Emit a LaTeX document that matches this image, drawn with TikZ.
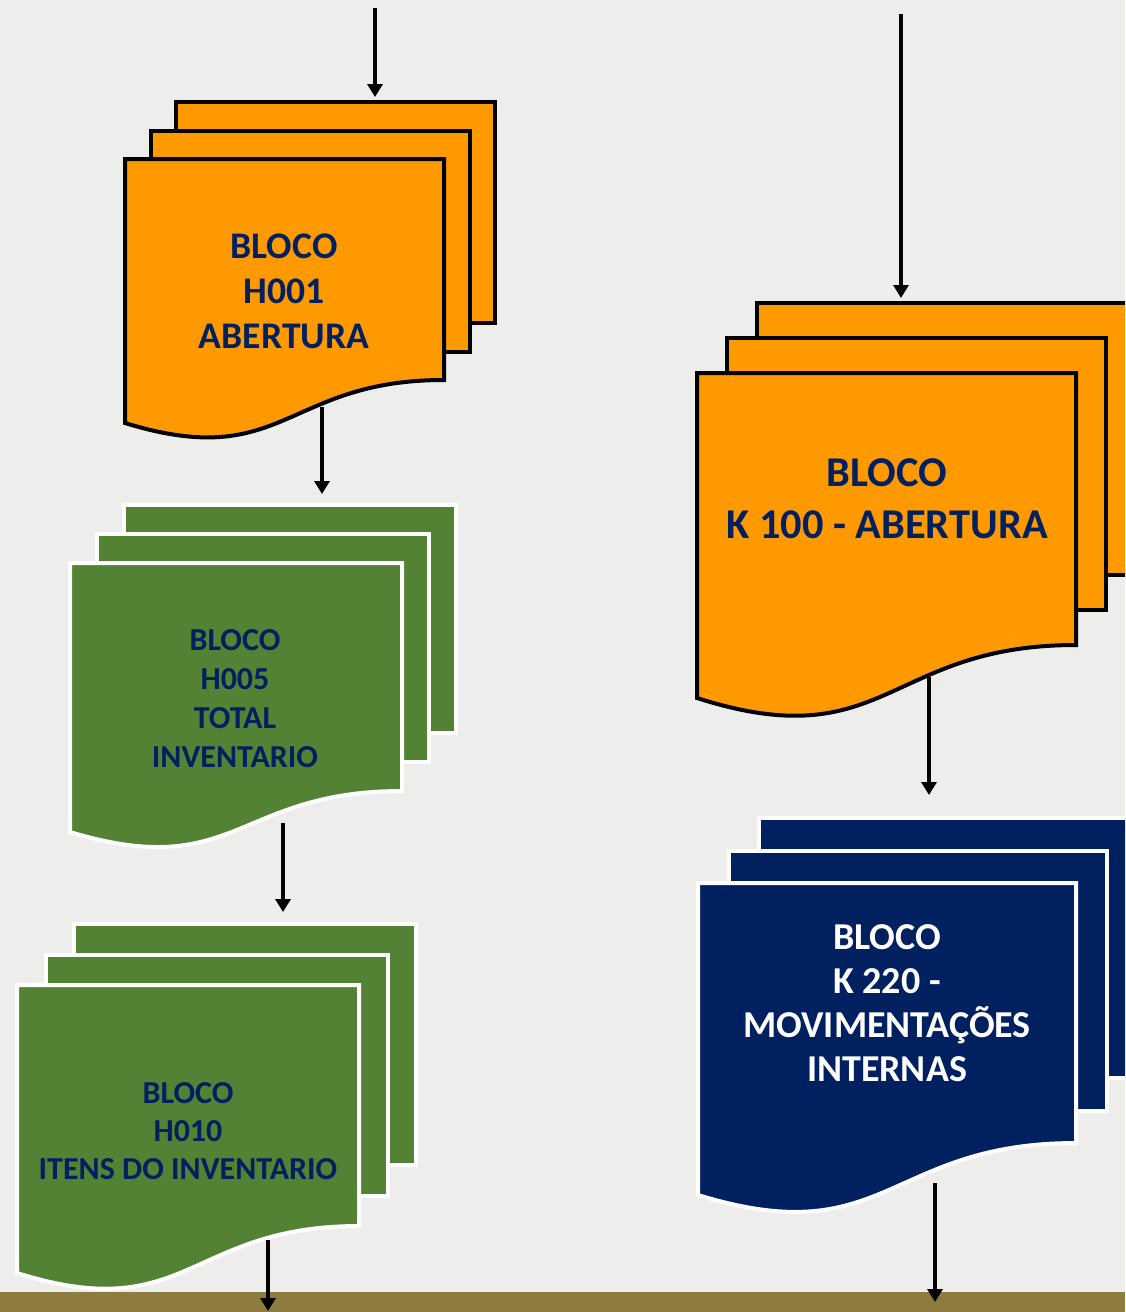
\documentclass[tikz,border=0pt]{standalone}
\usepackage{fontspec}
\setmainfont{Carlito}
\usepackage{tikz}
\usetikzlibrary{arrows.meta,calc}
\definecolor{paper}{HTML}{EDEDEC}
\definecolor{strip}{HTML}{8E7C3F}
\definecolor{orange}{HTML}{FF9900}
\definecolor{green}{HTML}{548235}
\definecolor{navy}{HTML}{002060}

% #1 top left of front page, #2 width, #3 right height, #4 left height, #5 page offset, #6 style
\newcommand{\multidoc}[6]{%
  \begin{scope}[shift={#1}]
    \foreach \k in {2,1}{\draw[#6] ($\k*#5$) rectangle ++(#2,#3);}
    \draw[#6] (0,0) -- (#2,0) -- (#2,#3)
      .. controls (0.5*#2,#3) and (0.5*#2,1.186*#4) .. (0,#4) -- cycle;
  \end{scope}}

\begin{document}
\begin{tikzpicture}[x=0.5pt,y=-0.5pt,>={Triangle[width=7.5pt,length=6.5pt]}]
\tikzset{orangedoc/.style={draw=black,line width=2pt,fill=orange},
  greendoc/.style={draw=white,line width=2pt,fill=green},
  navydoc/.style={draw=white,line width=2pt,fill=navy},
  lbl/.style={align=center,inner sep=0pt,text=navy},
  flow/.style={->,line width=2pt}}
\useasboundingbox (0,0) rectangle (1125,1312);
\clip (0,0) rectangle (1125,1312);
\fill[paper] (0,0) rectangle (1125,1312);
\fill[strip] (0,1292) rectangle (1125,1312);

% left column
\multidoc{(125,159)}{319}{221}{264}{(25.5,-28.5)}{orangedoc}
\multidoc{(70,563)}{332}{228}{269}{(27,-29)}{greendoc}
\multidoc{(17,985)}{342}{241}{288}{(28.5,-30.5)}{greendoc}
% right column
\multidoc{(697,373)}{379}{272}{325}{(30,-35)}{orangedoc}
\multidoc{(698,883)}{378}{260}{312}{(30.5,-32.5)}{navydoc}

\node[lbl,font=\bfseries\fontsize{18.8}{22.5}\selectfont] (h001) at (284,291) {BLOCO\\H001\\ABERTURA};
\node[lbl,font=\bfseries\fontsize{16}{19.5}\selectfont] (h005) at (235,699) {BLOCO\\H005\\TOTAL\\INVENTARIO};
\node[lbl,font=\bfseries\fontsize{16}{19}\selectfont] (h010) at (188,1131) {BLOCO\\H010\\ITENS DO INVENTARIO};
\node[lbl,font=\bfseries\fontsize{21.2}{26}\selectfont] (k100) at (887,499) {BLOCO\\K 100 - ABERTURA};
\node[lbl,text=white,font=\bfseries\fontsize{19}{22}\selectfont] (k220) at (887,1003) {BLOCO\\K 220 -\\MOVIMENTAÇÕES\\INTERNAS};

\coordinate (h001-in) at (375,8);   \coordinate (h001-top) at (375,97);
\coordinate (h001-out) at (322,407); \coordinate (h005-top) at (322,494);
\coordinate (h005-out) at (283,823); \coordinate (h010-top) at (283,912);
\coordinate (h010-out) at (268,1240); \coordinate (h010-end) at (268,1311);
\coordinate (k100-in) at (901,14);  \coordinate (k100-top) at (901,298);
\coordinate (k100-out) at (929,677); \coordinate (k220-top) at (929,795);
\coordinate (k220-out) at (935,1183); \coordinate (k220-end) at (935,1302);

\draw[flow] (h001-in) -- (h001-top);
\draw[flow] (h001-out) -- (h005-top);
\draw[flow] (h005-out) -- (h010-top);
\draw[flow] (h010-out) -- (h010-end);
\draw[flow] (k100-in) -- (k100-top);
\draw[flow] (k100-out) -- (k220-top);
\draw[flow] (k220-out) -- (k220-end);
\end{tikzpicture}
\end{document}
